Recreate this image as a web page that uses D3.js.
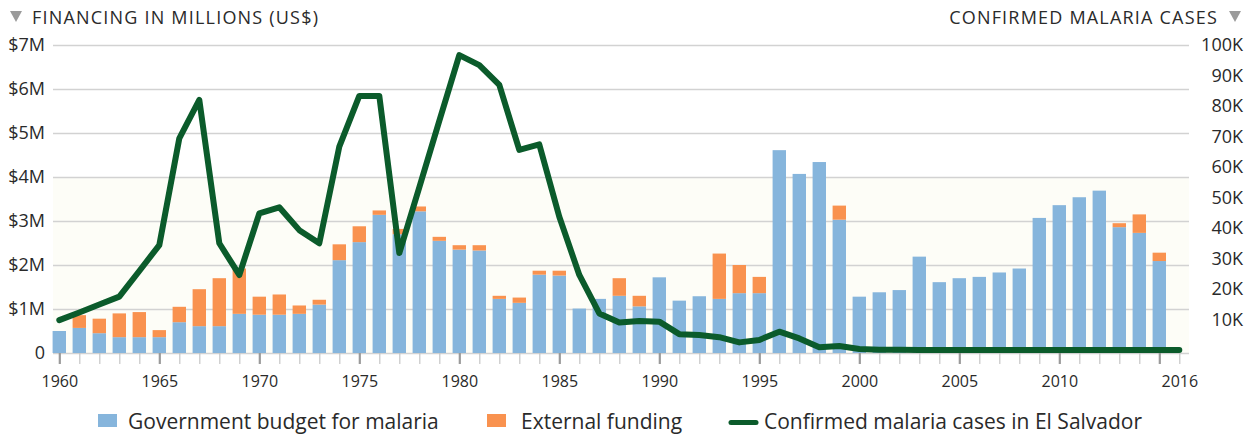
<!DOCTYPE html>
<html>
<head>
<meta charset="utf-8">
<script src="https://cdn.jsdelivr.net/npm/d3@7"></script>
<style>
  html, body { margin: 0; padding: 0; background: #fff; }
  svg { display: block; font-family: "Open Sans", sans-serif; }
</style>
</head>
<body>
<svg id="chart"></svg>
<script>
// data
const years = d3.range(1960, 2016)          // bar years
const lineYears = d3.range(1960, 2017)      // case years

// millions of US$
const govBudget = [
  0.50, 0.57, 0.45, 0.36, 0.36, 0.36, 0.70, 0.61, 0.61, 0.89,
  0.87, 0.87, 0.89, 1.10, 2.11, 2.52, 3.14, 2.70, 3.22, 2.55,
  2.35, 2.33, 1.23, 1.14, 1.78, 1.76, 1.01, 1.23, 1.30, 1.06,
  1.72, 1.19, 1.29, 1.23, 1.36, 1.36, 4.61, 4.07, 4.34, 3.03,
  1.28, 1.38, 1.43, 2.19, 1.61, 1.70, 1.73, 1.83, 1.92, 3.07,
  3.36, 3.54, 3.69, 2.86, 2.73, 2.09
]
const externalFunding = [
  0.00, 0.29, 0.33, 0.54, 0.57, 0.16, 0.35, 0.84, 1.09, 1.03,
  0.41, 0.46, 0.19, 0.11, 0.36, 0.36, 0.10, 0.12, 0.11, 0.09,
  0.10, 0.12, 0.07, 0.12, 0.09, 0.11, 0.00, 0.00, 0.40, 0.24,
  0.00, 0.00, 0.00, 1.03, 0.64, 0.37, 0.00, 0.00, 0.00, 0.32,
  0.00, 0.00, 0.00, 0.00, 0.00, 0.00, 0.00, 0.00, 0.00, 0.00,
  0.00, 0.00, 0.00, 0.09, 0.42, 0.19
]
// thousands of cases
const cases = [
  9.8, 12.3, 14.9, 17.5, 25.9, 34.4, 69.4, 82.0, 35.0, 24.6,
  44.8, 46.8, 39.3, 35.0, 66.7, 83.3, 83.3, 31.8, 53.3, 75.1,
  96.7, 93.4, 86.9, 65.6, 67.4, 43.7, 24.6, 12.0, 9.0, 9.5,
  9.3, 5.2, 4.9, 4.2, 2.5, 3.3, 6.0, 3.8, 0.9, 1.3,
  0.3, 0.1, 0.05, 0.04, 0.04, 0.03, 0.02, 0.02, 0.02, 0.01,
  0.01, 0.01, 0.01, 0.01, 0.01, 0.01, 0.01
]

const leftTicks = [0, 1, 2, 3, 4, 5, 6, 7]
const rightTicks = [10, 20, 30, 40, 50, 60, 70, 80, 90, 100]
const yearLabels = [1960, 1965, 1970, 1975, 1980, 1985, 1990, 1995, 2000, 2005, 2010, 2016]

const width = 1252,
      height = 436

const blue = "#86b5dc",
      orange = "#f9924f",
      green = "#0b5b2b",
      grid = "#d2d2d2",
      ink = "#2a2a2a"

const gridLeft = 53,
      gridRight = 1189

const svg = d3.select("#chart")
    .attr("width", width)
    .attr("height", height)

const x = d3.scaleLinear().domain([1960, 2016]).range([59.3, 1179.3])
const yL = d3.scaleLinear().domain([0, 7]).range([353, 45])
const yR = d3.scaleLinear().domain([0, 100]).range([350, 45])

const barW = (x(1961) - x(1960)) * 0.67

// faint cream band behind the lower part of the plot
svg.append("rect")
    .attr("x", gridLeft)
    .attr("y", yL(4))
    .attr("width", gridRight - gridLeft)
    .attr("height", yL(0) - yL(4))
    .attr("fill", "#fdfdf7")

// left axis + gridlines
const leftAxis = svg.append("g")
    .attr("transform", `translate(${gridLeft},0)`)
    .call(d3.axisLeft(yL)
        .tickValues(leftTicks)
        .tickSize(-(gridRight - gridLeft))
        .tickPadding(8)
        .tickFormat(d => d === 0 ? "0" : `$${d}M`))
leftAxis.select(".domain").remove()
leftAxis.selectAll("line").attr("stroke", grid).attr("stroke-width", 1.5)
leftAxis.selectAll("text")
    .attr("fill", ink)
    .attr("font-size", 18)
    .attr("font-family", "Open Sans")

// right axis labels
const rightAxis = svg.append("g")
    .attr("transform", "translate(1243,0)")
    .call(d3.axisRight(yR)
        .tickValues(rightTicks)
        .tickSize(0)
        .tickPadding(0)
        .tickFormat(d => `${d}K`))
rightAxis.select(".domain").remove()
rightAxis.selectAll("text")
    .attr("text-anchor", "end")
    .attr("x", 0)
    .attr("fill", ink)
    .attr("font-size", 18)
    .attr("font-family", "Open Sans")

// bottom axis
const xAxis = svg.append("g")
    .attr("transform", `translate(0,${yL(0)})`)
    .call(d3.axisBottom(x)
        .tickValues(lineYears)
        .tickSize(11)
        .tickPadding(12)
        .tickFormat(d => yearLabels.includes(d) ? d : ""))
xAxis.select(".domain").remove()
xAxis.selectAll(".tick line")
    .attr("stroke", d => d % 5 === 0 ? "#9a9a9a" : "#c6c6c6")
    .attr("stroke-width", d => d % 5 === 0 ? 2.2 : 1.2)
xAxis.selectAll("text")
    .attr("fill", ink)
    .attr("font-size", 16)
    .attr("font-family", "Open Sans")

// stacked bars
const table = years.map((year, i) => ({ year, gov: govBudget[i], ext: externalFunding[i] }))
const stacked = d3.stack().keys(["gov", "ext"])(table)
const fills = { gov: blue, ext: orange }

svg.append("g")
    .selectAll("g")
    .data(stacked)
    .join("g")
    .attr("fill", s => fills[s.key])
    .selectAll("rect")
    .data(s => s.filter(d => d[1] - d[0] > 0))
    .join("rect")
    .attr("x", d => x(d.data.year) - barW / 2)
    .attr("y", d => yL(d[1]))
    .attr("width", barW)
    .attr("height", d => yL(d[0]) - yL(d[1]))

// malaria cases line
const line = d3.line()
    .x((d, i) => x(lineYears[i]))
    .y(d => yR(d))

svg.append("path")
    .datum(cases)
    .attr("d", line)
    .attr("fill", "none")
    .attr("stroke", green)
    .attr("stroke-width", 6)
    .attr("stroke-linejoin", "round")
    .attr("stroke-linecap", "round")

// headers
svg.append("path")
    .attr("d", "M10,11 L22,11 L16,22 Z")
    .attr("fill", "#9b9b9b")
svg.append("text")
    .attr("x", 32)
    .attr("y", 24)
    .attr("font-size", 18)
    .attr("letter-spacing", 1.2)
    .attr("fill", ink)
    .text("FINANCING IN MILLIONS (US$)")

svg.append("path")
    .attr("d", "M1229,11 L1241,11 L1235,22 Z")
    .attr("fill", "#9b9b9b")
svg.append("text")
    .attr("x", 1218)
    .attr("y", 24)
    .attr("text-anchor", "end")
    .attr("font-size", 18)
    .attr("letter-spacing", 1.2)
    .attr("fill", ink)
    .text("CONFIRMED MALARIA CASES")

// legend
const legend = svg.append("g").attr("font-size", 21).attr("fill", ink)

legend.append("rect").attr("x", 98).attr("y", 414).attr("width", 19).attr("height", 13).attr("fill", blue)
legend.append("text").attr("x", 128).attr("y", 429).text("Government budget for malaria")

legend.append("rect").attr("x", 487).attr("y", 414).attr("width", 19).attr("height", 13).attr("fill", orange)
legend.append("text").attr("x", 521).attr("y", 429).text("External funding")

legend.append("line")
    .attr("x1", 731).attr("x2", 756).attr("y1", 422.5).attr("y2", 422.5)
    .attr("stroke", green).attr("stroke-width", 5).attr("stroke-linecap", "round")
legend.append("text").attr("x", 764).attr("y", 429).text("Confirmed malaria cases in El Salvador")
</script>
</body>
</html>
